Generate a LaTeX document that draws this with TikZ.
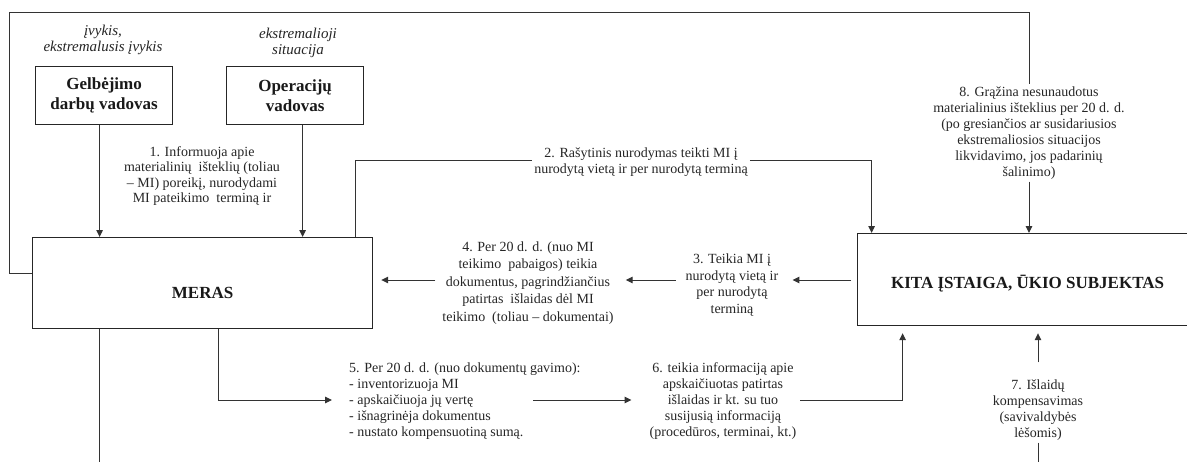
\documentclass[tikz,border=0pt]{standalone}
\usepackage{fontspec}
\setmainfont{Liberation Serif}
\usetikzlibrary{arrows.meta,calc}
\begin{document}
\begin{tikzpicture}[x=1pt,y=-1pt,
  lbl/.style={align=center,font=\fontsize{14}{16.5}\selectfont,inner sep=2pt,text=black!85},
  boxnode/.style={draw=black!85,line width=1.2pt,align=center,font=\fontsize{17}{20}\selectfont\bfseries,inner sep=0pt,anchor=north west,text=black!90},
  conn/.style={line width=1pt,draw=black!80},
  arr/.style={conn,-{Triangle[length=7pt,width=6.5pt]}},
  itlbl/.style={align=center,font=\fontsize{15}{16.5}\selectfont\itshape,inner sep=0pt,text=black!85}]
\clip (0,0) rectangle (1187,461);
\fill[white] (0,0) rectangle (1187,461);
% boxes
\node[boxnode,minimum width=137pt,minimum height=58pt] (g) at (35,66) {Gelbėjimo\\darbų vadovas};
\node[boxnode,minimum width=137pt,minimum height=58pt] (o) at (226,66) {Operacijų\\vadovas};
\node[boxnode,minimum width=340pt,minimum height=91pt] (m) at (32,237) {\raisebox{-15pt}[0pt][0pt]{MERAS}};
\node[boxnode,minimum width=340pt,minimum height=92pt] (k) at (857,233) {\raisebox{-9pt}[0pt][0pt]{KITA ĮSTAIGA, ŪKIO SUBJEKTAS}};
% italic captions
\node[itlbl] (t1) at (103,40) {įvykis,\\ekstremalusis įvykis};
\node[itlbl] (t2) at (298,43) {ekstremalioji\\situacija};
% labels
\node[lbl,font=\fontsize{14}{15.5}\selectfont] (l1) at (202,176) {1. Informuoja apie\\materialinių\ \ išteklių (toliau\\– MI) poreikį, nurodydami\\MI pateikimo\ \ terminą ir};
\node[lbl] (l2) at (641,162) {2. Rašytinis nurodymas teikti MI į\\nurodytą vietą ir per nurodytą terminą};
\node[lbl,font=\fontsize{14}{16}\selectfont] (l8) at (1029,133) {8. Grąžina nesunaudotus\\materialinius išteklius per 20 d. d.\\(po gresiančios ar susidariusios\\ekstremaliosios situacijos\\likvidavimo, jos padarinių\\šalinimo)};
\node[lbl] (l3) at (732,285) {3. Teikia MI į\\nurodytą vietą ir\\per nurodytą\\terminą};
\node[lbl,font=\fontsize{14}{17.5}\selectfont] (l4) at (528,283) {4. Per 20 d. d. (nuo MI\\teikimo\ \ pabaigos) teikia\\dokumentus, pagrindžiančius\\patirtas\ \ išlaidas dėl MI\\teikimo\ \ (toliau – dokumentai)};
\node[lbl,align=left,anchor=west,font=\fontsize{14}{16}\selectfont] (l5) at (347,401) {5. Per 20 d. d. (nuo dokumentų gavimo):\\- inventorizuoja MI\\- apskaičiuoja jų vertę\\- išnagrinėja dokumentus\\- nustato kompensuotiną sumą.};
\node[lbl,font=\fontsize{14}{16}\selectfont] (l6) at (723,401) {6. teikia informaciją apie\\apskaičiuotas patirtas\\išlaidas ir kt. su tuo\\susijusią informaciją\\(procedūros, terminai, kt.)};
\node[lbl,font=\fontsize{14}{16}\selectfont] (l7) at (1038,410) {7. Išlaidų\\kompensavimas\\(savivaldybės\\lėšomis)};
% helper coordinates
\coordinate (h2) at (0,160);
\coordinate (hl) at (0,273);
\coordinate (h3) at (0,280);
\coordinate (h5) at (0,400);
\coordinate (a6) at (533,400);
\coordinate (bot) at (0,470);
% connectors
\draw[arr] ([xshift=-4.5pt]g.south) -- ([xshift=-4.5pt]g.south |- m.north);
\draw[arr] ([xshift=7.5pt]o.south) -- ([xshift=7.5pt]o.south |- m.north);
\draw[conn] ([xshift=153pt]m.north) |- (l2.west |- h2);
\draw[arr] (l2.east |- h2) -| ([xshift=-156pt]k.north);
\draw[conn] (m.west |- hl) -- (9,273) -- (9,12) -| (l8.north);
\draw[arr] (l8.south) -- (l8.south |- k.north);
\draw[arr] ([xshift=-6pt]k.west |- h3) -- ([xshift=12pt]l3.east |- h3);
\draw[arr] ([xshift=-8pt]l3.west |- h3) -- ([xshift=10pt]l4.east |- h3);
\draw[arr] ([xshift=-5pt]l4.west |- h3) -- ([xshift=8pt]m.east |- h3);
\draw[arr] ([xshift=16pt]m.south) |- ([xshift=-15pt]l5.west |- h5);
\draw[arr] (a6) -- ([xshift=-16pt]l6.west |- h5);
\draw[arr,shorten >=7pt] ([xshift=2pt]l6.east |- h5) -| ([xshift=-125pt]k.south);
\draw[arr,shorten >=7pt] ([yshift=15pt]l7.north) -- (l7.north |- k.south);
\draw[conn] (l7.south) -- (l7.south |- bot);
\draw[conn] ([xshift=-103pt]m.south) -- ([xshift=-103pt]m.south |- bot);
\end{tikzpicture}
\end{document}
